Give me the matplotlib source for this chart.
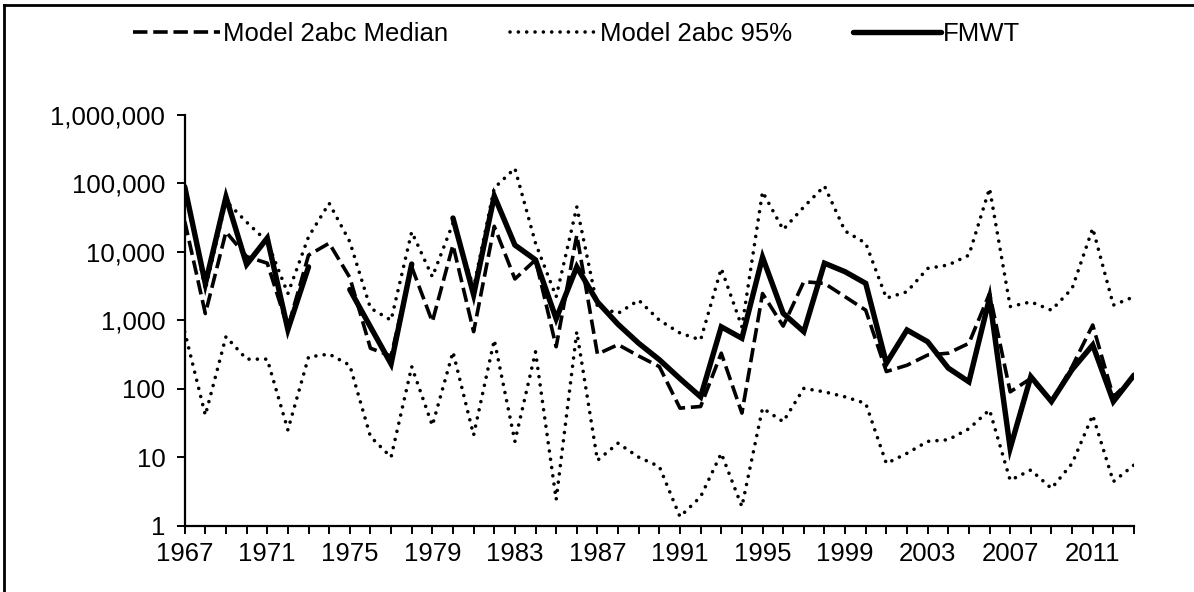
import numpy as np
import matplotlib
matplotlib.use("Agg")
import matplotlib.pyplot as plt
from matplotlib.lines import Line2D

nan = np.nan
years = list(range(1967, 2014))

fmwt = [89000, 3400, 63000, 6500, 15800, 730, 6000, nan, 2800, 800,
        230, 6600, nan, 31000, 2350, 65000, 12500, 7600, 1050, 6000,
        1850, 870, 460, 265, 140, 76, 800, 545, 8300, 1260,
        680, 6800, 5100, 3450, 235, 720, 485, 200, 126, 2100,
        13.5, 150, 65, 190, 435, 65, 158]

median = [28000, 1250, 19500, 8500, 6800, 780, 8900, 13300, 4200, 390,
          300, 6000, 950, 12500, 680, 23500, 4000, 7600, 410, 17500,
          320, 440, 300, 210, 52, 55, 330, 44, 2450, 820,
          3650, 3450, 2200, 1400, 178, 220, 310, 330, 460, 2450,
          90, 141, 65, 210, 850, 76, 150]

upper95 = [85000, 2800, 55000, 27000, 14000, 2450, 16500, 51000, 14000, 1500,
           1000, 19500, 4300, 26000, 3000, 85000, 165000, 13300, 2200, 45000,
           1580, 1260, 1960, 1000, 650, 515, 5700, 800, 75000, 21000,
           45000, 91000, 20000, 13300, 2100, 2600, 5700, 6400, 8900, 84000,
           1580, 1850, 1400, 2900, 22000, 1660, 2200]

lower95 = [680, 41, 575, 270, 270, 25, 290, 320, 220, 20,
           10, 210, 29, 345, 21, 515, 17, 345, 2.4, 680,
           9, 16, 10, 7.3, 1.35, 2.65, 11.4, 1.9, 52, 33,
           101, 90, 76, 61, 8.1, 11.4, 17, 18, 26, 49,
           4.6, 6.5, 3.5, 8.1, 41, 4.4, 7.7]

ytick_vals = [1, 10, 100, 1000, 10000, 100000, 1000000]
ytick_labels = ["1", "10", "100", "1,000", "10,000", "100,000", "1,000,000"]
xtick_labels = [str(y) if (y - 1967) % 4 == 0 else "" for y in years]

plt.rcParams['font.family'] = ['Liberation Sans', 'DejaVu Sans']

W, H = 1194, 592
fig = plt.figure(figsize=(W / 100, H / 100), dpi=100)
ax = fig.add_axes([184.7 / W, 1 - 525.7 / H, (1134 - 184.7) / W, (525.7 - 114.7) / H])

dash_style = (0, (4.0, 1.6))
dot_style = (0, (0.01, 2.3))
dot_lw = 2.6

ax.plot(years, upper95, color='black', lw=dot_lw, linestyle=dot_style,
        dash_capstyle='round')
ax.plot(years, lower95, color='black', lw=dot_lw, linestyle=dot_style,
        dash_capstyle='round')
ax.plot(years, median, color='black', lw=2.6, linestyle=dash_style,
        dash_capstyle='butt')
ax.plot(years, fmwt, color='black', lw=3.9, solid_capstyle='round',
        solid_joinstyle='miter')

ax.set_yscale('log')
ax.set_ylim(1, 1e6)
ax.set_xlim(1967, 2013)
ax.set_yticks(ytick_vals)
ax.set_yticklabels(ytick_labels)
ax.minorticks_off()
ax.set_xticks(years)
ax.set_xticklabels(xtick_labels)

for s in ['top', 'right']:
    ax.spines[s].set_visible(False)
for s in ['left', 'bottom']:
    ax.spines[s].set_linewidth(1.6)
    ax.spines[s].set_color('black')
ax.tick_params(axis='both', which='major', direction='out', length=6,
               width=1.4, labelsize=18.5, colors='black', pad=6)
ax.tick_params(axis='y', pad=8)

handles = [
    Line2D([], [], color='black', lw=2.6, linestyle=dash_style),
    Line2D([], [], color='black', lw=dot_lw, linestyle=dot_style, dash_capstyle='round'),
    Line2D([], [], color='black', lw=3.9, solid_capstyle='round'),
]
labels = ["Model 2abc Median", "Model 2abc 95%", "FMWT"]
fig.legend(handles, labels, loc='center', bbox_to_anchor=(0.483, 1 - 34 / H),
           ncol=3, frameon=False, fontsize=18.5, handlelength=3.4,
           handletextpad=0.1, columnspacing=2.4)

# outer chart border (top and left edges visible)
fig.add_artist(Line2D([4 / W, 4 / W], [0, 1 - 5 / H], transform=fig.transFigure,
                      color='black', lw=2))
fig.add_artist(Line2D([4 / W, 1], [1 - 5 / H, 1 - 5 / H], transform=fig.transFigure,
                      color='black', lw=2))

fig.savefig("out.png", dpi=100)
